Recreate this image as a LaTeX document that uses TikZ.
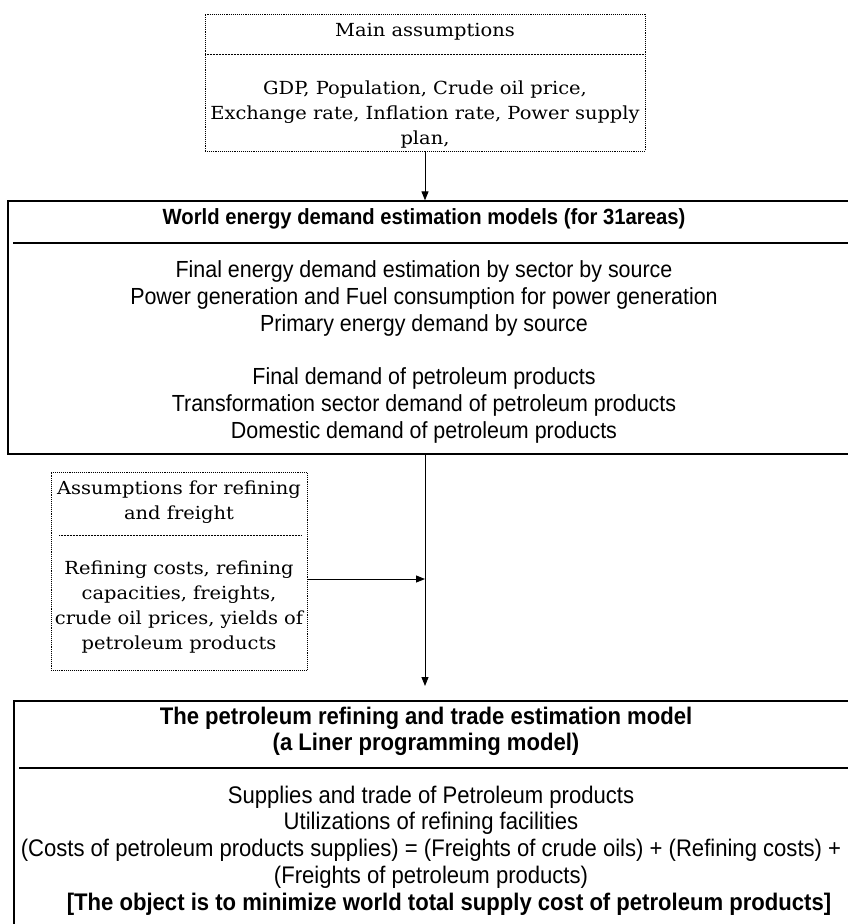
\documentclass[tikz,border=0pt]{standalone}
\usepackage{fontspec}
\setmainfont[FakeStretch=1.08]{DejaVu Serif}
\newfontfamily\narrowsans[FakeStretch=0.92]{Liberation Sans}
\usetikzlibrary{arrows.meta}
\begin{document}
\begin{tikzpicture}[x=1pt,y=-1pt,
  solidbox/.style={draw, line width=1.3pt},
  dotbox/.style={draw, densely dotted, line width=0.9pt},
  solidsep/.style={line width=1.2pt},
  dotsep/.style={densely dotted, line width=0.5pt},
  serif/.style={font=\fontsize{18}{25}\selectfont, align=center, inner sep=0pt},
  sansbody/.style={font=\narrowsans\fontsize{24}{26.8}\selectfont, align=center, inner sep=0pt},
  sansbodyw/.style={font=\narrowsans\fontsize{23.3}{26.8}\selectfont, align=center, inner sep=0pt},
  sanstitle/.style={font=\narrowsans\bfseries\fontsize{24}{26}\selectfont, align=center, inner sep=0pt},
  sanstitlew/.style={font=\narrowsans\bfseries\fontsize{22}{26}\selectfont, align=center, inner sep=0pt},
  arr/.style={-{Triangle[length=9pt,width=7pt]}, line width=0.9pt}]
\useasboundingbox (0,0) rectangle (848,924);
\clip (0,0) rectangle (848,924);
% top dotted box
\node[dotbox, minimum width=440pt, minimum height=137pt] (mainbox) at (425,82.5) {};
\node[serif] (maintitle) at (425,32) {Main assumptions};
\coordinate (ms1) at (205,54);
\coordinate (ms2) at (645,54);
\draw[dotsep] (ms1) -- (ms2);
\node[serif] (mainbody) at (425,115) {GDP, Population, Crude oil price,\\Exchange rate, Inflation rate, Power supply\\plan,};
% box 1
\node[solidbox, minimum width=870pt, minimum height=253pt] (worldbox) at (443,327.5) {};
\node[sanstitlew] (worldtitle) at (424,219) {World energy demand estimation models (for 31areas)};
\coordinate (w1) at (13,243);
\coordinate (w2) at (900,243);
\draw[solidsep] (w1) -- (w2);
\node[sansbodyw] (worldbody) at (424,352) {Final energy demand estimation by sector by source\\
Power generation and Fuel consumption for power generation\\
Primary energy demand by source\\
\mbox{}\\
Final demand of petroleum products\\
Transformation sector demand of petroleum products\\
Domestic demand of petroleum products};
% left dotted box
\node[dotbox, minimum width=256pt, minimum height=198pt] (refbox) at (179,571) {};
\node[serif] (reftitle) at (179,502.5) {Assumptions for refining\\and freight};
\coordinate (r1) at (59,535);
\coordinate (r2) at (301,535);
\draw[dotsep] (r1) -- (r2);
\node[serif] (refbody) at (179,607.5) {Refining costs, refining\\capacities, freights,\\crude oil prices, yields of\\petroleum products};
% box 3
\node[solidbox, minimum width=870pt, minimum height=260pt] (petrobox) at (449,831) {};
\node[sanstitle] (petrotitle) at (426,731) {The petroleum refining and trade estimation model\\(a Liner programming model)};
\coordinate (p1) at (19,768);
\coordinate (p2) at (900,768);
\draw[solidsep] (p1) -- (p2);
\node[sansbody] (petrobody) at (431,850.5) {Supplies and trade of Petroleum products\\
Utilizations of refining facilities\\
(Costs of petroleum products supplies) = (Freights of crude oils) + (Refining costs) +\\
(Freights of petroleum products)\\
\hspace*{36pt}\textbf{[The object is to minimize world total supply cost of petroleum products]}};
% connectors
\coordinate (top1) at (425,152);
\draw[arr] (mainbox.south -| top1) -- (top1 |- worldbox.north);
\coordinate (mid1) at (425,454);
\coordinate (mid2) at (425,686);
\draw[arr] (mid1) -- (mid2);
\coordinate (join) at (425,579);
\draw[arr] (refbox.east |- join) -- (join);
\end{tikzpicture}
\end{document}
